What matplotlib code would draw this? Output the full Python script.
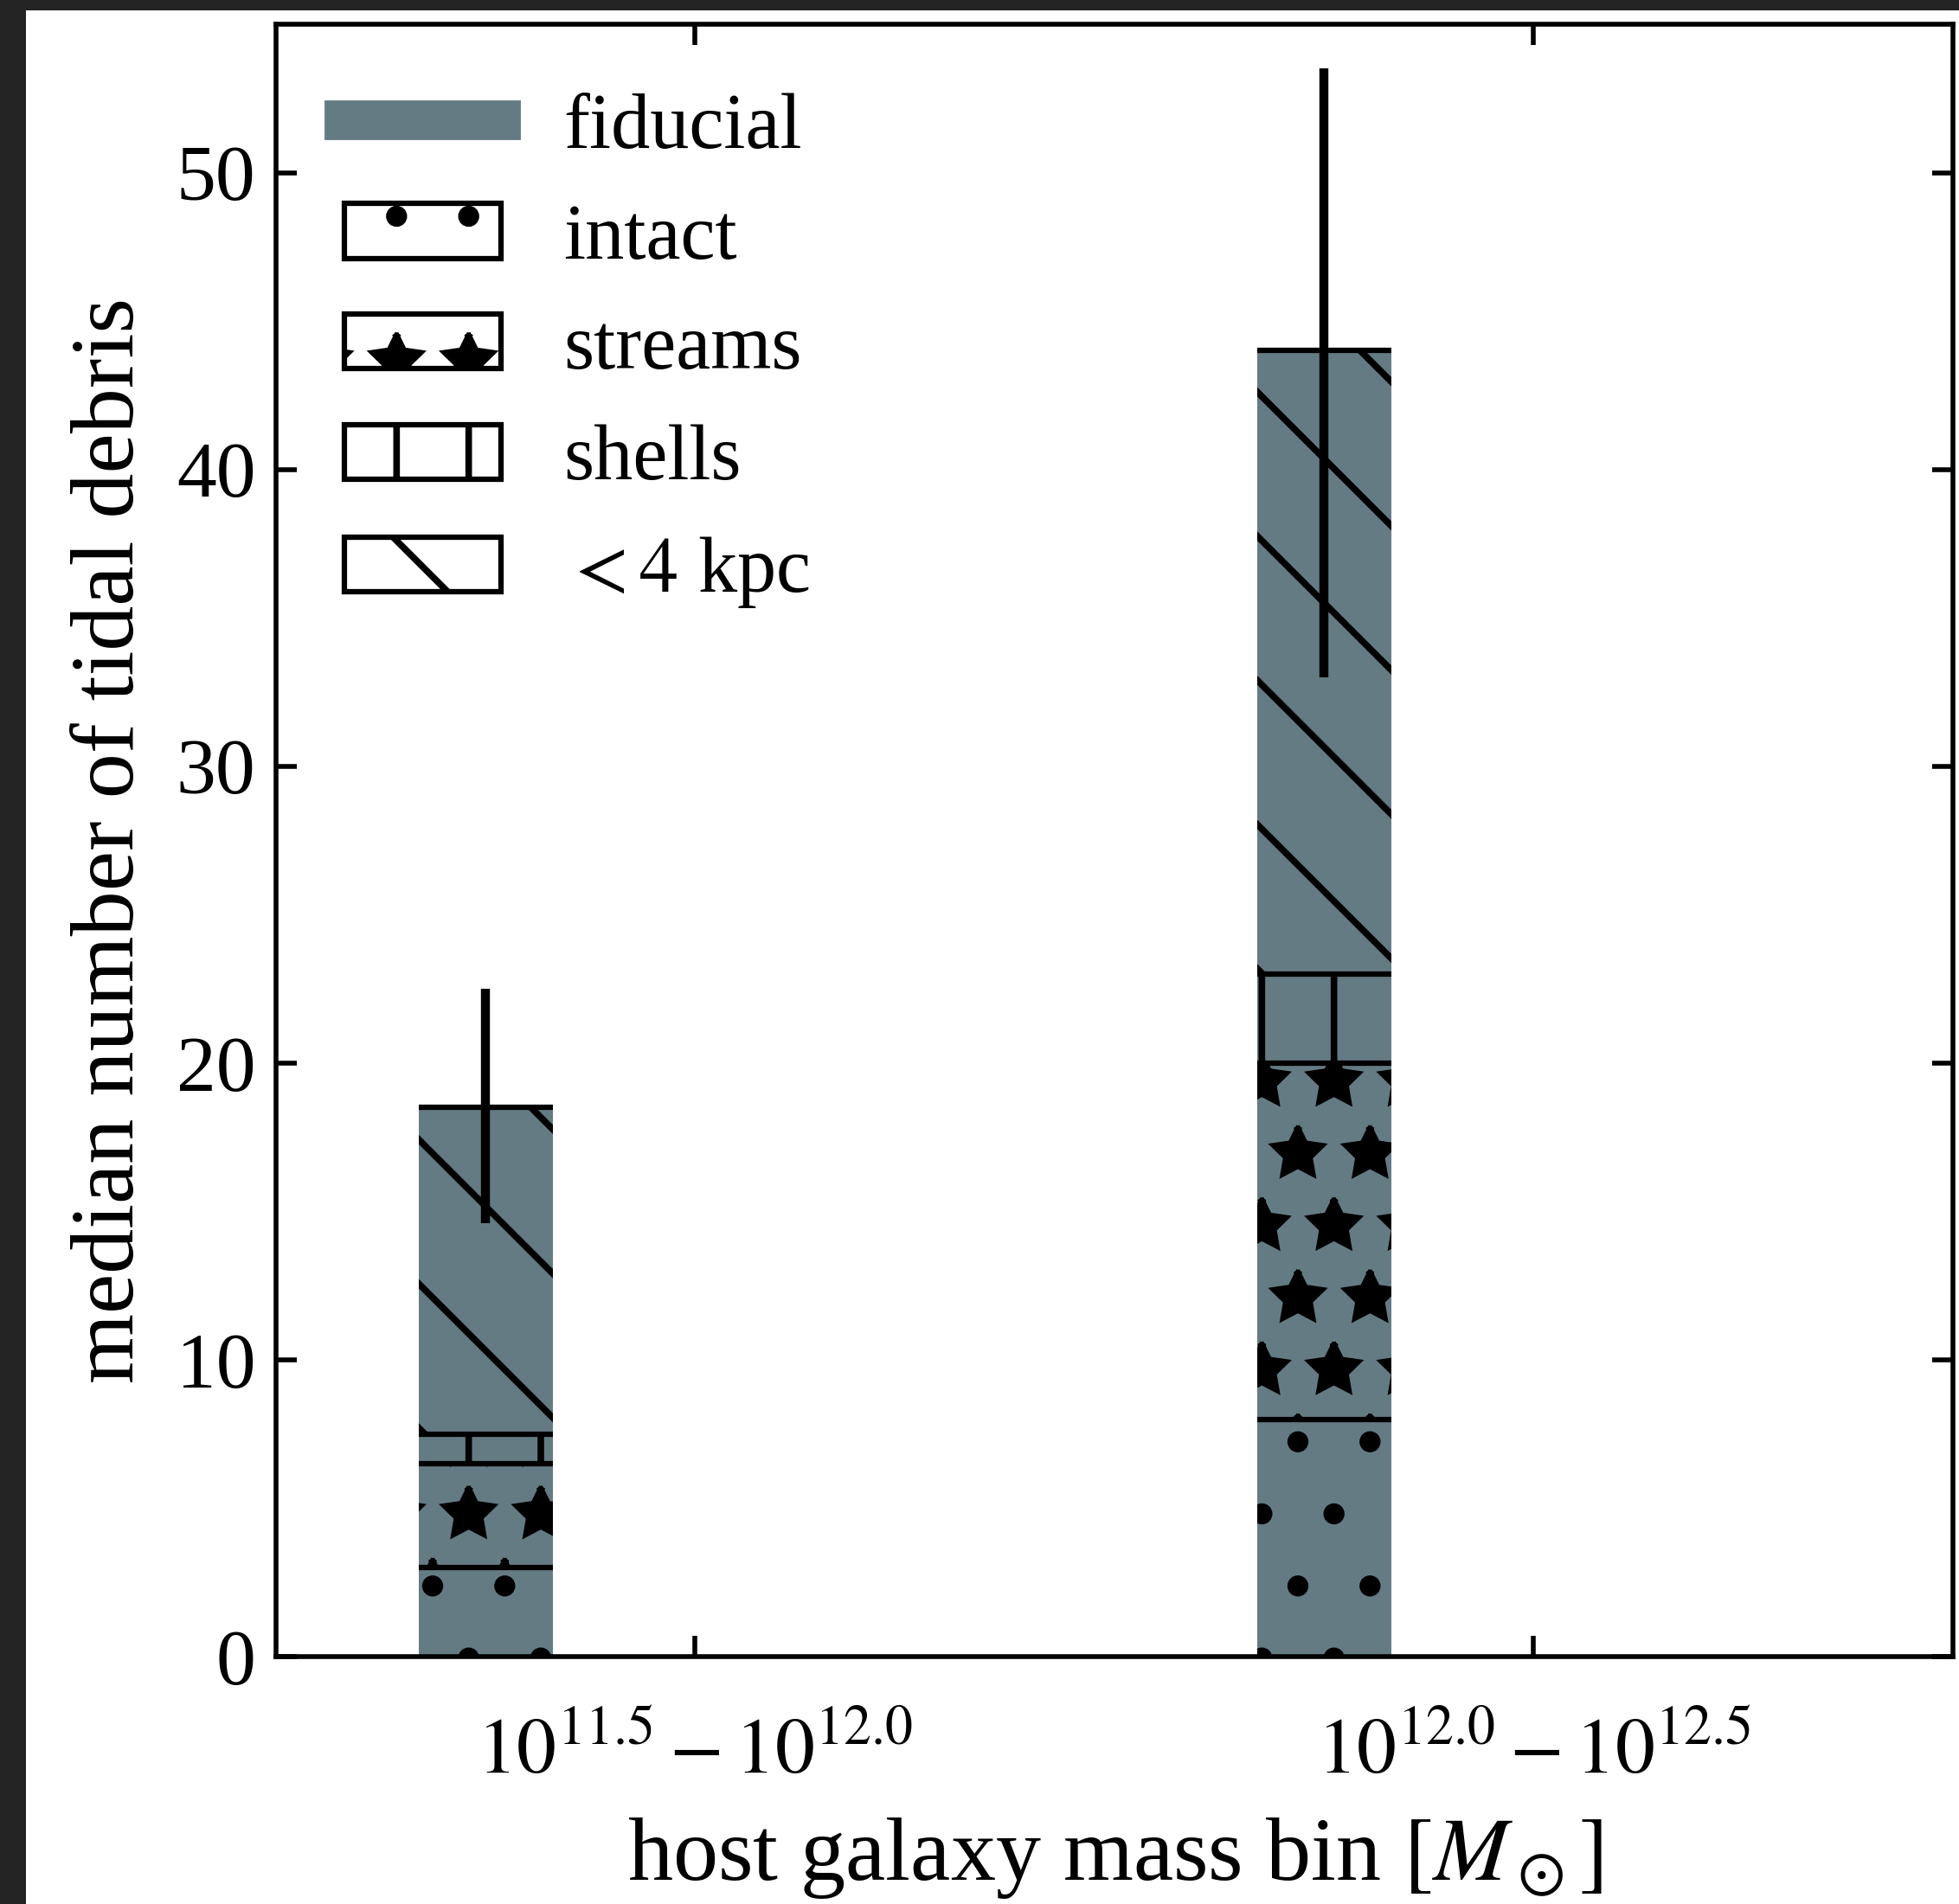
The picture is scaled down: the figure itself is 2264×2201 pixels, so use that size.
import numpy as np
import matplotlib.pyplot as plt
from matplotlib.lines import Line2D
from matplotlib.patches import Patch, Rectangle

plt.rcParams['font.family'] = 'serif'
plt.rcParams['font.serif'] = ['Liberation Serif', 'DejaVu Serif']
plt.rcParams['mathtext.fontset'] = 'stix'
plt.rcParams['hatch.linewidth'] = 0.55

# data
mass_bins = [r'$10^{11.5} - 10^{12.0}$', r'$10^{12.0} - 10^{12.5}$']
fiducial = [18.5, 44.0]
err_lo = [14.6, 33.0]
err_hi = [22.5, 53.5]
intact = [3.0, 8.0]
streams = [3.5, 12.0]
shells = [1.0, 3.0]
inner = [11.0, 21.0]   # < 4 kpc

gray = '#657b84'
labels = ['intact', 'streams', 'shells', r'$<4$ kpc']
hatches = ['..', '**', '||', '\\\\']

fig = plt.figure(figsize=(2.264, 2.201), dpi=1000)
fig.patch.set_facecolor('#242424')
fig.add_artist(Rectangle((30 / 2264, 0), 1, 1 - 12 / 2201, transform=fig.transFigure,
                         facecolor='white', edgecolor='none', zorder=-10))
ax = fig.add_axes([0.1409, 0.1299, 0.856, 0.8574])

x = np.arange(len(mass_bins))
pos = x - 0.25
w = 0.16

ax.bar(pos, fiducial, w, color=gray, lw=0)
bottom = np.zeros(len(pos))
for vals, h in zip([intact, streams, shells, inner], hatches):
    ax.bar(pos, vals, w, bottom=bottom, fill=False, hatch=h, edgecolor='k', lw=0)
    bottom = bottom + np.array(vals)
    ax.hlines(bottom, pos - w / 2, pos + w / 2, colors='k', lw=0.45)

f = np.array(fiducial)
ax.errorbar(pos, f, yerr=[f - np.array(err_lo), np.array(err_hi) - f],
            fmt='none', ecolor='k', elinewidth=0.75, capsize=0)

handles = [Line2D([], [], color=gray, lw=3.3, solid_capstyle='projecting', label='fiducial')]
for lab, h in zip(labels, hatches):
    handles.append(Patch(facecolor='white', edgecolor='k', hatch=h, lw=0.45, label=lab))
ax.legend(handles=handles, loc='upper left', frameon=False, fontsize=6.5,
          handlelength=2.0, labelspacing=0.5, borderaxespad=0.48)

ax.set_xlim(-0.5, 1.5)
ax.set_ylim(0, 55)
ax.set_xticks(x)
ax.set_xticklabels(mass_bins)
ax.set_yticks([0, 10, 20, 30, 40, 50])
ax.tick_params(direction='in', top=True, right=True, length=1.7, width=0.4,
               labelsize=6.6)
ax.tick_params(axis='x', pad=5.0)
ax.tick_params(axis='y', pad=1.7)
for s in ax.spines.values():
    s.set_linewidth(0.4)

ax.set_xlabel(r'host galaxy mass bin $[M_\odot]$', fontsize=7.5, labelpad=2.2)
ax.set_ylabel('median number of tidal debris', fontsize=7.5, labelpad=2.0)

fig.savefig('out.png', dpi=1000, facecolor=fig.get_facecolor())
